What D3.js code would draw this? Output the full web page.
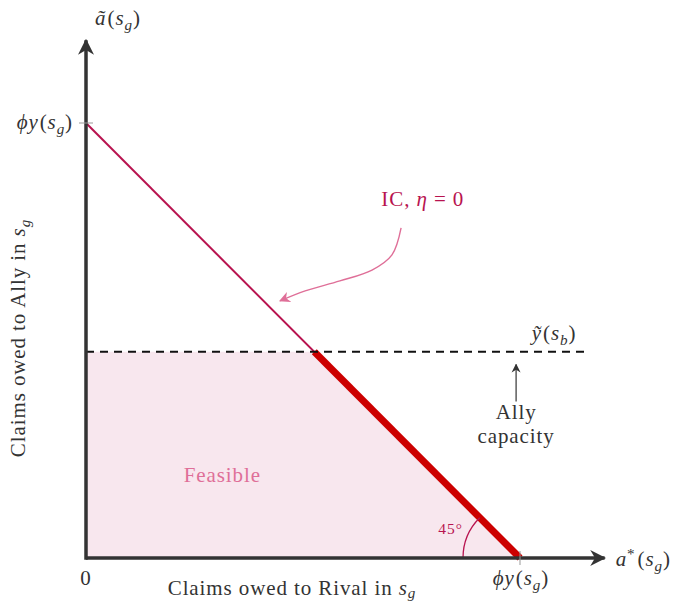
<!DOCTYPE html>
<html>
<head>
<meta charset="utf-8">
<script src="https://cdn.jsdelivr.net/npm/d3@7"></script>
<style>
  html, body { margin: 0; padding: 0; background: #fff; }
  svg { display: block; font-family: "Liberation Serif", "DejaVu Serif", serif; }
  svg text { letter-spacing: 0.9px; }
</style>
</head>
<body>
<svg id="chart" width="679" height="605"></svg>
<script>
// Model quantities (normalised so that phi*y(s_g) = 1)
const phiY = 1;                 // intercept of the IC line on both axes
const allyCapacity = 0.474;     // tilde y(s_b)
const axisMax = [1.195, 1.19];  // extent of the x and y axes
const dashedEnd = 1.15;         // where the capacity line stops

// IC line (eta = 0): a~ = phiY - a*
const icLine = [[0, phiY], [phiY, 0]];
// Binding segment: from capacity intersection down to the x-intercept
const bindingSeg = [[phiY - allyCapacity, allyCapacity], [phiY, 0]];
// Feasible region
const feasible = [[0, 0], [0, allyCapacity], [phiY - allyCapacity, allyCapacity], [phiY, 0]];
// Curved pointer from the IC label to the line
const pointer = [[0.726, 0.759], [0.705, 0.697], [0.659, 0.662], [0.585, 0.637], [0.505, 0.614], [0.447, 0.591]];

const svg = d3.select("#chart");
const x = d3.scaleLinear().domain([0, 1]).range([86, 520]);
const y = d3.scaleLinear().domain([0, 1]).range([558, 123]);

const ink = "#333333";
const icColor = "#b8134f";
const thickRed = "#cc0000";
const fillPink = "#f8e7ee";
const softPink = "#df6f98";

const defs = svg.append("defs");
function marker(id, color, w, h) {
  defs.append("marker")
    .attr("id", id).attr("viewBox", "0 0 10 10")
    .attr("refX", 9).attr("refY", 5)
    .attr("markerWidth", w).attr("markerHeight", h)
    .attr("markerUnits", "userSpaceOnUse")
    .attr("orient", "auto")
    .append("path")
    .attr("d", "M0,0 L10,5 L0,10 L3,5 Z")
    .attr("fill", color);
}
marker("axisHead", ink, 16, 16);
marker("pinkHead", softPink, 11, 11);
marker("thinHead", ink, 9, 10);

const line = d3.line().x(d => x(d[0])).y(d => y(d[1]));

// Feasible set
svg.append("path").datum(feasible)
  .attr("d", d3.line().x(d => x(d[0])).y(d => y(d[1])).curve(d3.curveLinearClosed))
  .attr("fill", fillPink);

const fs = 21;
svg.append("text").attr("x", x(0.314)).attr("y", y(0.175))
  .attr("text-anchor", "middle").attr("font-size", fs).attr("fill", softPink)
  .text("Feasible");

// IC line
svg.append("path").datum(icLine).attr("d", line)
  .attr("fill", "none").attr("stroke", icColor).attr("stroke-width", 2);

// Binding portion
svg.append("path").datum(bindingSeg).attr("d", line)
  .attr("fill", "none").attr("stroke", thickRed).attr("stroke-width", 7);

// Ally capacity dashed line
svg.append("path").datum([[0, allyCapacity], [dashedEnd, allyCapacity]]).attr("d", line)
  .attr("fill", "none").attr("stroke", "#111").attr("stroke-width", 2)
  .attr("stroke-dasharray", "8,6");

// 45 degree angle arc at the x-intercept
const r = 57;
const arc = d3.arc().innerRadius(r).outerRadius(r)
  .startAngle(-Math.PI / 2).endAngle(-Math.PI / 4);
svg.append("path").attr("d", arc())
  .attr("transform", `translate(${x(phiY)},${y(0)})`)
  .attr("fill", "none").attr("stroke", icColor).attr("stroke-width", 1.3);
svg.append("text").attr("x", x(0.840)).attr("y", y(0.056))
  .attr("text-anchor", "middle").attr("font-size", 15.5).attr("fill", icColor)
  .text("45°");

// Axes
svg.append("line").attr("x1", x(0)).attr("y1", y(0)).attr("x2", x(axisMax[0])).attr("y2", y(0))
  .attr("stroke", ink).attr("stroke-width", 3.5).attr("marker-end", "url(#axisHead)");
svg.append("line").attr("x1", x(0)).attr("y1", y(0) + 1.7).attr("x2", x(0)).attr("y2", y(axisMax[1]))
  .attr("stroke", ink).attr("stroke-width", 3.5).attr("marker-end", "url(#axisHead)");

// Ticks at phi*y(s_g)
svg.append("line").attr("x1", x(0) - 7).attr("x2", x(0) + 7).attr("y1", y(phiY)).attr("y2", y(phiY))
  .attr("stroke", "#999").attr("stroke-width", 1);
svg.append("line").attr("x1", x(phiY)).attr("x2", x(phiY)).attr("y1", y(0) - 7).attr("y2", y(0) + 7)
  .attr("stroke", "#999").attr("stroke-width", 1);

// Math-style labels
function mathLabel(px, py, anchor, parts, size, color, subDrop) {
  const drop = size * (subDrop || 0.25);
  const t = svg.append("text").attr("x", px).attr("y", py)
    .attr("text-anchor", anchor).attr("font-size", size).attr("fill", color || ink);
  parts.forEach(p => {
    const s = t.append("tspan").text(p.t);
    if (p.i) s.attr("font-style", "italic");
    if (p.sub) s.attr("font-size", size * 0.72).attr("dy", drop);
    if (p.sup) s.attr("font-size", size * 0.72).attr("dy", -size * 0.35);
    if (p.back) s.attr("dy", p.back);
    if (p.gap) s.attr("dx", p.gap);
  });
  return t;
}
const phiLbl = [{t: "ϕy", i: 1}, {t: "(", gap: 1}, {t: "s", i: 1}, {t: "g", i: 1, sub: 1}, {t: ")", back: -fs * 0.25}];

mathLabel(x(0) + 32, 25, "middle",
  [{t: "ã", i: 1}, {t: "(", gap: 1}, {t: "s", i: 1}, {t: "g", i: 1, sub: 1}, {t: ")", back: -fs * 0.25}], fs);
mathLabel(x(0) - 13, y(phiY) + 6, "end", phiLbl, fs);
mathLabel(x(phiY) + 1, y(0) + 27, "middle", phiLbl, fs);
svg.append("text").attr("x", x(0)).attr("y", y(0) + 27).attr("text-anchor", "middle")
  .attr("font-size", fs).attr("fill", ink).text("0");
mathLabel(x(axisMax[0]) + 11, y(0) + 8, "start",
  [{t: "a", i: 1}, {t: "*", sup: 1}, {t: "(", back: fs * 0.35, gap: 2}, {t: "s", i: 1}, {t: "g", i: 1, sub: 1}, {t: ")", back: -fs * 0.25}], fs);
mathLabel(x(dashedEnd) - 31, y(allyCapacity) - 12, "middle",
  [{t: "ỹ", i: 1}, {t: "(", gap: 1}, {t: "s", i: 1}, {t: "b", i: 1, sub: 1}, {t: ")", back: -fs * 0.25}], fs);

// Axis titles
mathLabel(292, 595, "middle", [{t: "Claims owed to Rival in "}, {t: "s", i: 1}, {t: "g", i: 1, sub: 1}], fs, ink, 0.12);
mathLabel(0, 0, "middle", [{t: "Claims owed to Ally in "}, {t: "s", i: 1}, {t: "g", i: 1, sub: 1}], fs)
  .attr("transform", "translate(25,338) rotate(-90)");

// Ally capacity note
svg.append("line").attr("x1", x(0.991)).attr("x2", x(0.991))
  .attr("y1", y(0.36)).attr("y2", y(0.445))
  .attr("stroke", ink).attr("stroke-width", 1.2).attr("marker-end", "url(#thinHead)");
svg.append("text").attr("x", x(0.991)).attr("y", 419).attr("text-anchor", "middle")
  .attr("font-size", fs).attr("fill", ink).text("Ally");
svg.append("text").attr("x", x(0.991)).attr("y", 443).attr("text-anchor", "middle")
  .attr("font-size", fs).attr("fill", ink).text("capacity");

// IC annotation with curved pointer
mathLabel(x(0.776), y(0.81), "middle",
  [{t: "IC, "}, {t: "η", i: 1}, {t: " = 0"}], fs, icColor);
svg.append("path").datum(pointer)
  .attr("d", d3.line().x(d => x(d[0])).y(d => y(d[1])).curve(d3.curveCatmullRom))
  .attr("fill", "none").attr("stroke", softPink).attr("stroke-width", 1.4)
  .attr("marker-end", "url(#pinkHead)");
</script>
</body>
</html>
